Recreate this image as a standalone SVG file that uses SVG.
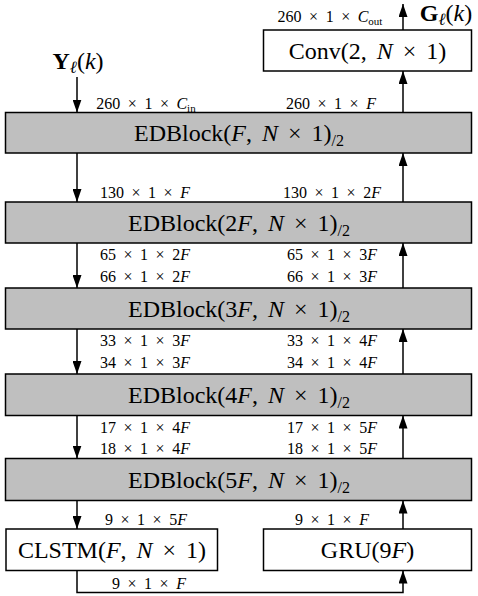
<svg xmlns="http://www.w3.org/2000/svg" width="478" height="596" viewBox="0 0 478 596">
<style>
.box{fill:#fff;stroke:#000;stroke-width:1.5}
.gray{fill:#bfbfbf}
.main{font-family:"Liberation Serif",serif;font-size:24px;word-spacing:4px;text-anchor:middle;fill:#000}
.lab{font-family:"Liberation Serif",serif;font-size:16px;word-spacing:3.5px;text-anchor:middle;fill:#000}
.i{font-style:italic}
.b{font-weight:bold}
.conn{fill:none;stroke:#000;stroke-width:1.5;marker-end:url(#ah)}
</style>
<defs>
<marker id="ah" viewBox="0 0 13 9" refX="13" refY="4.5" markerWidth="13" markerHeight="9" markerUnits="userSpaceOnUse" orient="auto">
<path d="M0,0 L13,4.5 L0,9 z" fill="#000"/>
</marker>
</defs>

<g id="connectors">
<path class="conn" d="M77,77 V112.5"/>
<path class="conn" d="M403,30 V4"/>
<path class="conn" d="M403,112.5 V71"/>
<path class="conn" d="M77,153 V202"/>
<path class="conn" d="M403,202 V153"/>
<path class="conn" d="M77,243 V288"/>
<path class="conn" d="M403,288 V243"/>
<path class="conn" d="M77,329 V374"/>
<path class="conn" d="M403,374 V329"/>
<path class="conn" d="M77,415.5 V458.5"/>
<path class="conn" d="M403,458.5 V415.5"/>
<path class="conn" d="M77,500.5 V529"/>
<path class="conn" d="M403,529 V500.5"/>
<path class="conn" d="M77,570.5 V592.5 H403 V570.5"/>
</g>

<g id="labels">
<text class="lab" x="146" y="109">260 × 1 × <tspan class="i">C</tspan><tspan font-size="11" dy="3">in</tspan></text>
<text class="lab" x="331" y="109">260 × 1 × <tspan class="i">F</tspan></text>
<text class="lab" x="330" y="22">260 × 1 × <tspan class="i">C</tspan><tspan font-size="11" dy="3">out</tspan></text>
<text class="lab" x="145" y="198">130 × 1 × <tspan class="i">F</tspan></text>
<text class="lab" x="332" y="198">130 × 1 × 2<tspan class="i">F</tspan></text>
<text class="lab" x="145" y="260">65 × 1 × 2<tspan class="i">F</tspan></text>
<text class="lab" x="332" y="260">65 × 1 × 3<tspan class="i">F</tspan></text>
<text class="lab" x="145" y="282">66 × 1 × 2<tspan class="i">F</tspan></text>
<text class="lab" x="332" y="282">66 × 1 × 3<tspan class="i">F</tspan></text>
<text class="lab" x="145" y="346">33 × 1 × 3<tspan class="i">F</tspan></text>
<text class="lab" x="332" y="346">33 × 1 × 4<tspan class="i">F</tspan></text>
<text class="lab" x="145" y="368">34 × 1 × 3<tspan class="i">F</tspan></text>
<text class="lab" x="332" y="368">34 × 1 × 4<tspan class="i">F</tspan></text>
<text class="lab" x="145" y="433">17 × 1 × 4<tspan class="i">F</tspan></text>
<text class="lab" x="332" y="433">17 × 1 × 5<tspan class="i">F</tspan></text>
<text class="lab" x="145" y="454">18 × 1 × 4<tspan class="i">F</tspan></text>
<text class="lab" x="332" y="454">18 × 1 × 5<tspan class="i">F</tspan></text>
<text class="lab" x="146" y="525">9 × 1 × 5<tspan class="i">F</tspan></text>
<text class="lab" x="332" y="525">9 × 1 × <tspan class="i">F</tspan></text>
<text class="lab" x="149" y="589">9 × 1 × <tspan class="i">F</tspan></text>
</g>

<g id="input">
<text class="main" x="78" y="69"><tspan class="b">Y</tspan><tspan class="i" font-size="17" dy="4">ℓ</tspan><tspan dy="-4">(</tspan><tspan class="i">k</tspan>)</text>
</g>
<g id="output">
<text class="main" x="446" y="21"><tspan class="b">G</tspan><tspan class="i" font-size="17" dy="4">ℓ</tspan><tspan dy="-4">(</tspan><tspan class="i">k</tspan>)</text>
</g>

<g id="conv">
<rect class="box" x="263.5" y="30" width="208" height="41"/>
<text class="main" x="367.5" y="58.5">Conv(2, <tspan class="i">N</tspan> × 1)</text>
</g>
<g id="edblock1">
<rect class="box gray" x="5.5" y="112.5" width="466" height="40.5"/>
<text class="main" x="239" y="141">EDBlock(<tspan class="i">F</tspan>, <tspan class="i">N</tspan> × 1)<tspan font-size="16" dy="5">/2</tspan></text>
</g>
<g id="edblock2">
<rect class="box gray" x="5.5" y="202" width="466" height="41"/>
<text class="main" x="239" y="230.5">EDBlock(2<tspan class="i">F</tspan>, <tspan class="i">N</tspan> × 1)<tspan font-size="16" dy="5">/2</tspan></text>
</g>
<g id="edblock3">
<rect class="box gray" x="5.5" y="288" width="466" height="41"/>
<text class="main" x="239" y="316.5">EDBlock(3<tspan class="i">F</tspan>, <tspan class="i">N</tspan> × 1)<tspan font-size="16" dy="5">/2</tspan></text>
</g>
<g id="edblock4">
<rect class="box gray" x="5.5" y="374" width="466" height="41.5"/>
<text class="main" x="239" y="402.5">EDBlock(4<tspan class="i">F</tspan>, <tspan class="i">N</tspan> × 1)<tspan font-size="16" dy="5">/2</tspan></text>
</g>
<g id="edblock5">
<rect class="box gray" x="5.5" y="458.5" width="466" height="42"/>
<text class="main" x="239" y="487.5">EDBlock(5<tspan class="i">F</tspan>, <tspan class="i">N</tspan> × 1)<tspan font-size="16" dy="5">/2</tspan></text>
</g>
<g id="clstm">
<rect class="box" x="6" y="529" width="211.5" height="41.5"/>
<text class="main" x="112" y="558">CLSTM(<tspan class="i">F</tspan>, <tspan class="i">N</tspan> × 1)</text>
</g>
<g id="gru">
<rect class="box" x="263.5" y="529" width="208" height="41.5"/>
<text class="main" x="367.5" y="558">GRU(9<tspan class="i">F</tspan>)</text>
</g>
</svg>
